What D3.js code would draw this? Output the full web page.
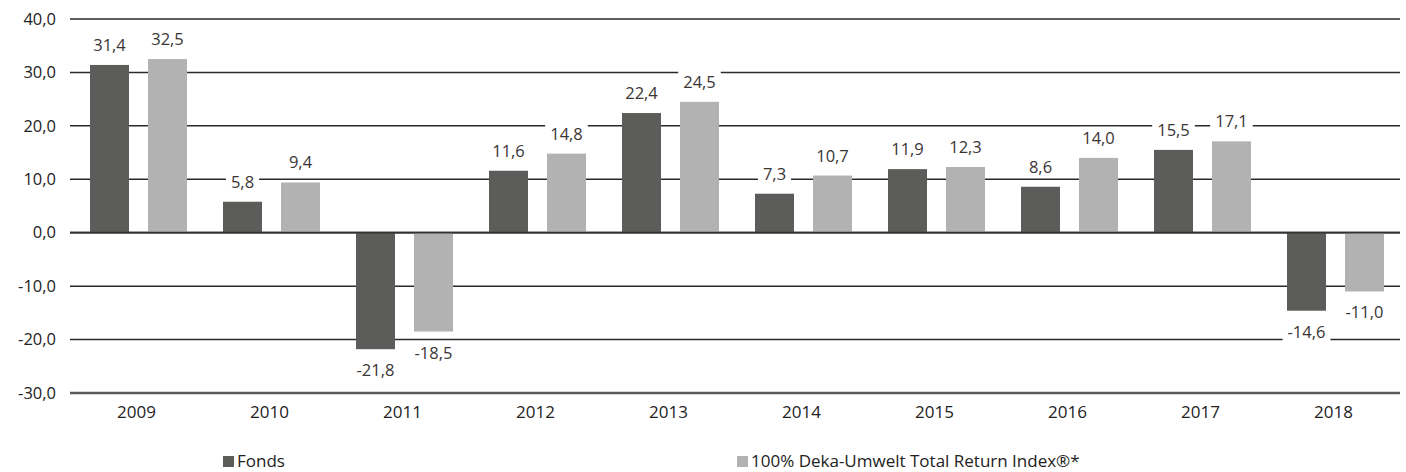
<!DOCTYPE html>
<html><head><meta charset="utf-8">
<script src="https://cdn.jsdelivr.net/npm/d3@7"></script>
<style>html,body{margin:0;padding:0;background:#fff;}svg{display:block;font-family:"Open Sans",sans-serif;}</style>
</head><body><svg id="c" width="1406" height="472"></svg>
<script>
const years = ["2009","2010","2011","2012","2013","2014","2015","2016","2017","2018"];
const fonds = [31.4, 5.8, -21.8, 11.6, 22.4, 7.3, 11.9, 8.6, 15.5, -14.6];
const index = [32.5, 9.4, -18.5, 14.8, 24.5, 10.7, 12.3, 14.0, 17.1, -11.0];
const yTicks = [40, 30, 20, 10, 0, -10, -20, -30];
const seriesNames = ["Fonds", "100% Deka-Umwelt Total Return Index®*"];
const colors = ["#5c5c5a", "#b2b2b2"];

const svg = d3.select("#c");
const fmt = v => d3.format(".1f")(v).replace(".", ",").replace("−","-");
const x = d3.scaleBand().domain(years).range([70, 1400]).paddingInner(0).paddingOuter(0);
const x1 = d3.scaleBand().domain([0,1]).range([20, 117]).paddingInner(0.3276).paddingOuter(0);
const y = d3.scaleLinear().domain([-30, 40]).range([393, 19]);

// gridlines
svg.append("g").selectAll("line").data(yTicks).join("line")
  .attr("x1", 70).attr("x2", 1400)
  .attr("y1", d => y(d)).attr("y2", d => y(d))
  .attr("stroke", d => d === -30 ? "#5a5a5a" : (d === 0 ? "#333" : "#2a2a2a"))
  .attr("stroke-width", d => d === -30 ? 2.5 : (d === 0 ? 1.8 : 1.5));

// y tick labels
svg.append("g").selectAll("text").data(yTicks).join("text")
  .attr("x", 56).attr("y", d => y(d)).attr("dy", "0.35em")
  .attr("text-anchor", "end").attr("font-size", 16.5).attr("fill", "#222")
  .text(fmt);

// x labels
svg.append("g").selectAll("text").data(years).join("text")
  .attr("x", d => x(d) + x.bandwidth()/2).attr("y", 418)
  .attr("text-anchor", "middle").attr("font-size", 17).attr("fill", "#222")
  .text(d => d);

const data = [];
years.forEach((yr, i) => {
  data.push({yr, s:0, v:fonds[i]});
  data.push({yr, s:1, v:index[i]});
});

const g = svg.append("g");
g.selectAll("rect").data(data).join("rect")
  .attr("x", d => x(d.yr) + x1(d.s))
  .attr("width", x1.bandwidth())
  .attr("y", d => Math.min(y(d.v), y(0)))
  .attr("height", d => Math.abs(y(d.v) - y(0)))
  .attr("fill", d => colors[d.s]);

// zero line on top
svg.append("line").attr("x1",70).attr("x2",1400).attr("y1",y(0)).attr("y2",y(0))
  .attr("stroke","#333").attr("stroke-width",1.8);

// value labels with white background
const lg = svg.append("g");
data.forEach(d => {
  const cx = x(d.yr) + x1(d.s) + x1.bandwidth()/2;
  const ty = d.v >= 0 ? y(d.v) - 14 : y(d.v) + 27;
  const grp = lg.append("g");
  const t = grp.append("text").attr("x", cx).attr("y", ty)
    .attr("text-anchor","middle").attr("font-size",16.5).attr("fill","#3a3535")
    .text(fmt(d.v));
  const bb = t.node().getBBox();
  grp.insert("rect","text").attr("x", bb.x-5).attr("y", bb.y+1).attr("width", bb.width+10).attr("height", bb.height-2).attr("fill","#fff");
});

// legend
const legX = [223, 737];
seriesNames.forEach((n, i) => {
  svg.append("rect").attr("x", legX[i]).attr("y", 456).attr("width", 11).attr("height", 11).attr("fill", colors[i]);
  svg.append("text").attr("x", legX[i] + 14).attr("y", 467).attr("font-size", 17).attr("fill", "#222").text(n);
});
</script></body></html>
